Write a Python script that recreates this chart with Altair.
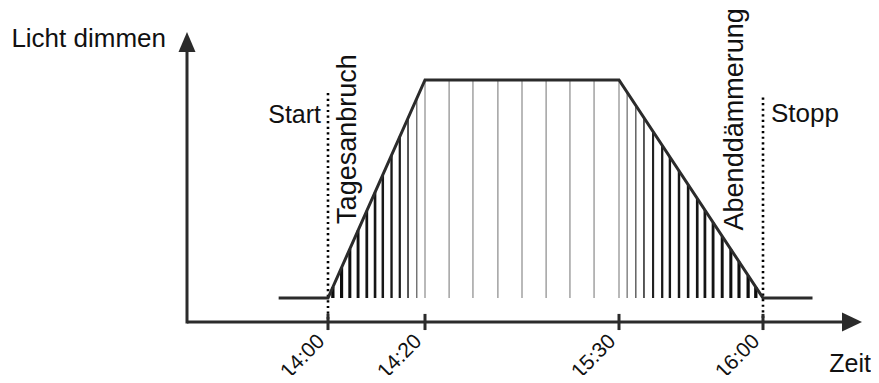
import altair as alt
import pandas as pd

# ---- data (diagram values; time in minutes after 14:00, light level 0..1) ----
line_t = [-10.5, 0, 20, 90, 120, 130]
line_h = [0, 0, 1, 1, 0, 0]

rise_t = [1.0, 2.8, 4.5, 6.2, 8.0, 9.7, 11.3, 13.1, 14.8, 16.5, 18.3]
rise_h = [0.05, 0.14, 0.225, 0.31, 0.40, 0.485, 0.565, 0.655, 0.74, 0.825, 0.915]
plat_t = [20, 28.7, 37.3, 46.3, 55.0, 63.7, 72.3, 81.0, 90]
plat_h = [1, 1, 1, 1, 1, 1, 1, 1, 1]
fall_t = [91.7, 93.5, 95.2, 97.1, 99.0, 100.6, 102.5, 104.4, 106.3, 107.9,
          109.6, 111.5, 113.3, 115.0, 116.9, 118.5]
fall_h = [0.943, 0.883, 0.827, 0.763, 0.70, 0.647, 0.583, 0.52, 0.457, 0.403,
          0.347, 0.283, 0.223, 0.167, 0.103, 0.05]

tick_t = [0, 20, 90, 120]
tick_labels = ["14:00", "14:20", "15:30", "16:00"]

marker_t = [0, 120]           # Start / Stopp
marker_top = [0.94, 0.92]

axis_t0, axis_t1 = -30, 140   # x axis extent (arrow tip at 140)
axis_h0, axis_h1 = -0.11, 1.22  # y axis extent (arrow tip at 1.22)

FONT = "Liberation Sans"
INK = "#2b2b2b"

xs = alt.Scale(domain=[-30, 0, 20, 90, 120, 140],
               range=[179, 320, 417, 611, 755, 854], nice=False, zero=False)
ys = alt.Scale(domain=[0, 1], range=[290, 72], nice=False, zero=False)

hatch = pd.DataFrame({"t": rise_t + plat_t + fall_t,
                      "h": rise_h + plat_h + fall_h})
line_df = pd.DataFrame({"t": line_t, "h": line_h})

hatch_layer = alt.Chart(hatch).mark_rule().encode(
    x=alt.X("t:Q", scale=xs, axis=None),
    y=alt.Y("h:Q", scale=ys, axis=None),
    y2=alt.datum(0),
    strokeWidth=alt.StrokeWidth("h:Q", scale=alt.Scale(domain=[0, 0.75, 0.9, 1], range=[3.4, 2.2, 1.4, 1.2]), legend=None),
    color=alt.Color("h:Q", scale=alt.Scale(domain=[0, 0.75, 0.85, 1], range=["#0a0a0a", "#1a1a1a", "#555555", "#8a8a8a"]), legend=None),
)

line_layer = alt.Chart(line_df).mark_line(color=INK, strokeWidth=3, strokeJoin="miter").encode(
    x=alt.X("t:Q", scale=xs, axis=None),
    y=alt.Y("h:Q", scale=ys, axis=None),
    order="t:Q",
)

mark_df = pd.DataFrame({"t": marker_t, "top": marker_top, "bot": [axis_h0] * 2})
dotted = alt.Chart(mark_df).mark_rule(color="#000000", strokeWidth=2.6, strokeDash=[2.2, 3.4]).encode(
    x=alt.X("t:Q", scale=xs, axis=None),
    y=alt.Y("top:Q", scale=ys, axis=None),
    y2="bot:Q",
)

xaxis_df = pd.DataFrame({"a": [axis_t0], "b": [axis_t1 - 2], "h": [axis_h0]})
xaxis = alt.Chart(xaxis_df).mark_rule(color=INK, strokeWidth=3).encode(
    x=alt.X("a:Q", scale=xs, axis=None), x2="b:Q",
    y=alt.Y("h:Q", scale=ys, axis=None),
)
yaxis_df = pd.DataFrame({"t": [axis_t0], "a": [axis_h0 - 0.007], "b": [axis_h1 - 0.05]})
yaxis = alt.Chart(yaxis_df).mark_rule(color=INK, strokeWidth=3).encode(
    x=alt.X("t:Q", scale=xs, axis=None),
    y=alt.Y("a:Q", scale=ys, axis=None), y2="b:Q",
)

xarrow = alt.Chart(pd.DataFrame({"t": [axis_t1], "h": [axis_h0]})).mark_point(
    shape="M0,0L-2,-0.95L-2,0.95Z", size=400, filled=True, color=INK, opacity=1, strokeWidth=0
).encode(x=alt.X("t:Q", scale=xs, axis=None), y=alt.Y("h:Q", scale=ys, axis=None))

yarrow = alt.Chart(pd.DataFrame({"t": [axis_t0], "h": [axis_h1]})).mark_point(
    shape="M0,0L-0.85,2L0.85,2Z", size=400, filled=True, color=INK, opacity=1, strokeWidth=0
).encode(x=alt.X("t:Q", scale=xs, axis=None), y=alt.Y("h:Q", scale=ys, axis=None))

ticks_df = pd.DataFrame({"t": tick_t, "label": tick_labels,
                         "a": [-0.073] * 4, "b": [-0.147] * 4, "lh": [-0.188] * 4})
ticks = alt.Chart(ticks_df).mark_rule(color=INK, strokeWidth=3).encode(
    x=alt.X("t:Q", scale=xs, axis=None),
    y=alt.Y("a:Q", scale=ys, axis=None), y2="b:Q",
)
tick_text = alt.Chart(ticks_df).mark_text(
    angle=315, align="right", baseline="middle", fontSize=21, font=FONT, color="#111111", dx=-4, dy=-5
).encode(
    x=alt.X("t:Q", scale=xs, axis=None),
    y=alt.Y("lh:Q", scale=ys, axis=None),
    text="label:N",
)

def label(txt, t, h, size=26, **kw):
    return alt.Chart(pd.DataFrame({"t": [t], "h": [h], "s": [txt]})).mark_text(
        font=FONT, fontSize=size, color="#111111", **kw
    ).encode(
        x=alt.X("t:Q", scale=xs, axis=None),
        y=alt.Y("h:Q", scale=ys, axis=None),
        text="s:N",
    )

labels = [
    label("Licht dimmen", axis_t0, 1.151, align="right", baseline="alphabetic", dx=-21),
    label("Zeit", axis_t1, -0.339, size=25, align="right", baseline="alphabetic", dx=9),
    label("Start", 0, 0.803, size=25, align="right", baseline="alphabetic", dx=-7),
    label("Stopp", 120, 0.807, align="left", baseline="alphabetic", dx=8),
    label("Tagesanbruch", 5.8, 0.34, size=27, align="left", baseline="alphabetic", angle=270),
    label("Abenddämmerung", 115.8, 0.31, size=27, align="left", baseline="alphabetic", angle=270),
]

chart = alt.layer(
    hatch_layer, dotted, line_layer, xaxis, yaxis, xarrow, yarrow, ticks, tick_text, *labels
).properties(
    width=863, height=367,
    autosize=alt.AutoSizeParams(type="none"),
    padding=0,
    background="white",
).configure_view(strokeWidth=0)

chart.save("out.html", embed_options={"renderer": "svg", "actions": False})
